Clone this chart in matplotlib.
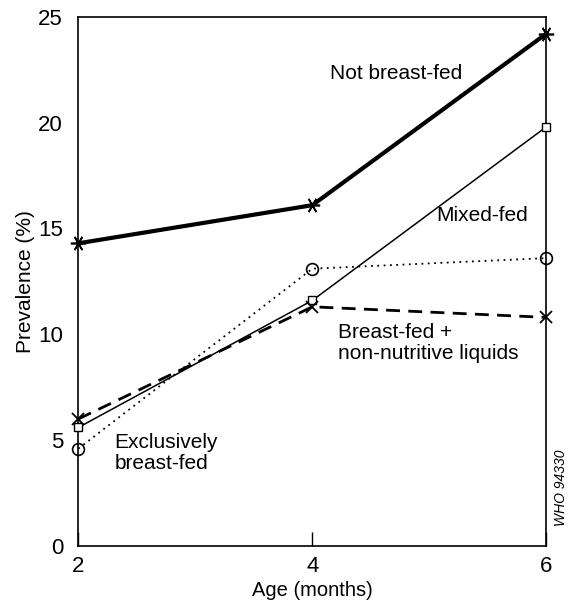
import matplotlib.pyplot as plt

plt.rcParams['font.family'] = ['Liberation Sans', 'DejaVu Sans']

age = [2, 4, 6]
not_breastfed = [14.3, 16.1, 24.2]
mixed_fed = [5.6, 11.6, 19.8]
exclusive = [4.6, 13.1, 13.6]
breastfed_liquids = [6.0, 11.3, 10.8]

fig = plt.figure(figsize=(5.72, 6.0), dpi=100)
ax = fig.add_axes([0.137, 0.09, 0.818, 0.882])

# series
ax.plot(age, not_breastfed, color='black', linewidth=3, marker=(6, 2, 90),
        markersize=11, markeredgewidth=1.2, clip_on=False, zorder=5)
ax.plot(age, mixed_fed, color='black', linewidth=1.1, marker='s',
        markersize=5.5, markerfacecolor='white', markeredgewidth=1.0,
        clip_on=False, zorder=4)
ax.plot(age, exclusive, color='black', linewidth=1.3, linestyle=(0, (1, 2.5)),
        marker='o', markersize=8.5, markerfacecolor='none',
        markeredgewidth=1.2, clip_on=False, zorder=3)
ax.plot(age, breastfed_liquids, color='black', linewidth=2, linestyle=(0, (5, 3)),
        marker='x', markersize=8.5, markeredgewidth=1.3, clip_on=False, zorder=4)

# labels on the lines
ax.text(4.15, 22.3, 'Not breast-fed', fontsize=15, ha='left', va='center')
ax.text(5.06, 15.6, 'Mixed-fed', fontsize=15, ha='left', va='center')
ax.text(4.22, 9.6, 'Breast-fed +\nnon-nutritive liquids', fontsize=15,
        ha='left', va='center', linespacing=1.1)
ax.text(2.31, 4.4, 'Exclusively\nbreast-fed', fontsize=15, ha='left',
        va='center', linespacing=1.1)

ax.set_xlim(2, 6)
ax.set_ylim(0, 25)
ax.set_xticks([2, 4, 6])
ax.set_yticks([0, 5, 10, 15, 20, 25])
ax.tick_params(direction='in', length=10, width=1, labelsize=16)
ax.tick_params(axis='y', pad=11)
ax.tick_params(axis='x', pad=7)
for t in ax.xaxis.get_major_ticks():
    if t.get_loc() in (2, 6):
        t.tick1line.set_visible(False)
for t in ax.yaxis.get_major_ticks():
    if t.get_loc() in (0, 25):
        t.tick1line.set_visible(False)
for s in ax.spines.values():
    s.set_linewidth(1.2)

ax.set_xlabel('Age (months)', fontsize=14.5, labelpad=3)
ax.set_ylabel('Prevalence (%)', fontsize=15, labelpad=2)

fig.text(0.98, 0.187, 'WHO 94330', rotation=90, fontsize=10, style='italic',
         ha='center', va='center')

plt.savefig('out.png', dpi=100)
